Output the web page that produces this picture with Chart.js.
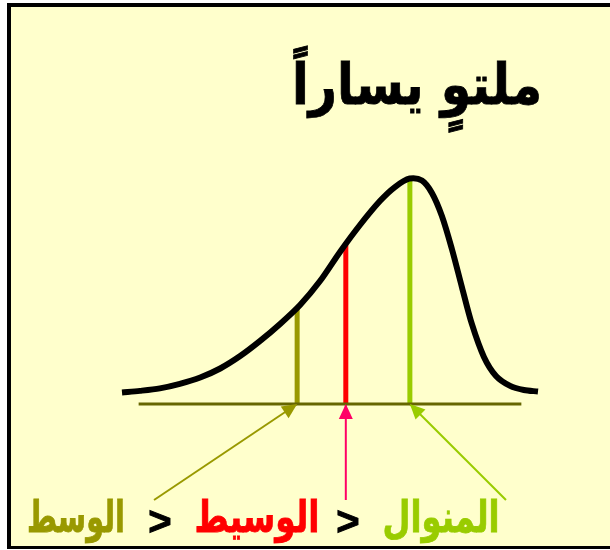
<!DOCTYPE html>
<html>
<head>
<meta charset="utf-8">
<script src="https://cdn.jsdelivr.net/npm/chart.js@4"></script>
<style>
body { margin: 0; background: #fff; }
canvas { display: block; }
</style>
</head>
<body>
<canvas id="skewChart" width="610" height="550"></canvas>
<script>
// curve (x 0..100, y = density 0..100)
const curveX = [0, 4.3, 9.1, 13.9, 18.8, 23.6, 28.4, 33.2, 38, 42.8, 47.6, 52.4, 57.2, 62, 65.6, 69.2,
                72.1, 74.5, 76.9, 79.3, 81.7, 84.1, 87, 89.9, 93.3, 96.6, 100];
const curveY = [5.1, 5.8, 6.9, 8.9, 11.7, 15.7, 21.2, 27.9, 35.4, 43.8, 54.4, 67.3, 79.2, 89.8, 96, 99.8,
                98.9, 93.4, 83.2, 68.6, 51.8, 35.4, 20.8, 12.4, 8, 6.2, 5.5];
const axisX = [4, 96];

// mean, median, mode
const statNames = ["الوسط", "الوسيط", "المنوال"];
const statX = [42.1, 53.8, 69.2];
const statTop = [42.5, 70.8, 98.7];
const arrowFromX = [7.7, 53.8, 92.3];
const arrowFromY = -42.5;

const titleText = "ملتوٍ يساراً";

const statColors = ["#999900", "#FF0000", "#99CC00"];
const arrowColors = ["#999900", "#FF0066", "#99CC00"];

const datasets = [];
datasets.push({
  data: curveX.map((x, i) => ({x: x, y: curveY[i]})),
  borderColor: "#000",
  borderWidth: 6,
  tension: 0.3,
  pointRadius: 0,
  clip: false
});
datasets.push({
  data: axisX.map(x => ({x: x, y: 0})),
  borderColor: "#666600",
  borderWidth: 3,
  pointRadius: 0,
  clip: false
});
for (let i = 0; i < statX.length; i++) {
  datasets.push({
    data: [{x: statX[i], y: 0}, {x: statX[i], y: statTop[i]}],
    borderColor: statColors[i],
    borderWidth: 5,
    borderCapStyle: "butt",
    pointRadius: 0,
    clip: false
  });
}
for (let i = 0; i < statX.length; i++) {
  datasets.push({
    data: [{x: arrowFromX[i], y: arrowFromY}, {x: statX[i], y: 0}],
    borderColor: arrowColors[i],
    borderWidth: 2,
    pointRadius: 0,
    clip: false,
    arrow: true
  });
}

// background + frame
const framePlugin = {
  id: "frame",
  beforeDraw(chart) {
    const ctx = chart.ctx;
    ctx.save();
    ctx.fillStyle = "#fff";
    ctx.fillRect(0, 0, 610, 550);
    ctx.fillStyle = "#000";
    ctx.fillRect(7, 3, 610, 546);
    ctx.fillStyle = "#FFFFCC";
    ctx.fillRect(11, 7, 610, 539);
    ctx.restore();
  }
};

// arrow heads at the end of arrow datasets
const arrowPlugin = {
  id: "arrowHeads",
  afterDatasetsDraw(chart) {
    const ctx = chart.ctx;
    chart.data.datasets.forEach((ds, i) => {
      if (!ds.arrow) return;
      const pts = chart.getDatasetMeta(i).data;
      const a = pts[0], b = pts[pts.length - 1];
      const ang = Math.atan2(b.y - a.y, b.x - a.x);
      const len = 15, half = 7;
      ctx.save();
      ctx.translate(b.x, b.y);
      ctx.rotate(ang);
      ctx.fillStyle = ds.borderColor;
      ctx.beginPath();
      ctx.moveTo(0, 0);
      ctx.lineTo(-len, -half);
      ctx.lineTo(-len, half);
      ctx.closePath();
      ctx.fill();
      ctx.restore();
    });
  }
};

// draw text at a given size, squeezed to a given width
function fittedText(ctx, text, x, y, size, width, color) {
  ctx.save();
  ctx.font = "bold " + size + "px 'DejaVu Sans'";
  const w = ctx.measureText(text).width;
  ctx.translate(x, y);
  ctx.scale(width / w, 1);
  ctx.fillStyle = color;
  ctx.strokeStyle = color;
  ctx.lineWidth = 0.8;
  ctx.fillText(text, 0, 0);
  ctx.strokeText(text, 0, 0);
  ctx.restore();
}

const textPlugin = {
  id: "texts",
  afterDraw(chart) {
    const ctx = chart.ctx;
    ctx.save();
    ctx.textAlign = "center";
    ctx.textBaseline = "alphabetic";
    fittedText(ctx, titleText, 417, 104, 56, 250, "#000");

    const centers = [76, 257, 441];
    const widths = [98, 125, 117];
    for (let i = 0; i < statNames.length; i++) {
      fittedText(ctx, statNames[i], centers[i], 532, 44, widths[i], statColors[i]);
    }
    ctx.fillStyle = "#000";
    ctx.strokeStyle = "#000";
    ctx.lineWidth = 1;
    ctx.font = "bold 40px 'Liberation Sans'";
    ctx.fillText(">", 160, 535);
    ctx.fillText(">", 348, 535);
    ctx.strokeText(">", 160, 535);
    ctx.strokeText(">", 348, 535);
    ctx.restore();
  }
};

new Chart("skewChart", {
  type: "line",
  data: { datasets: datasets },
  options: {
    responsive: false,
    animation: false,
    layout: { padding: { left: 122, right: 72, top: 178, bottom: 50 } },
    scales: {
      x: { type: "linear", min: 0, max: 100, display: false },
      y: { min: -42.5, max: 100, display: false }
    },
    plugins: { legend: { display: false }, tooltip: { enabled: false }, title: { display: false } }
  },
  plugins: [framePlugin, arrowPlugin, textPlugin]
});
</script>
</body>
</html>
